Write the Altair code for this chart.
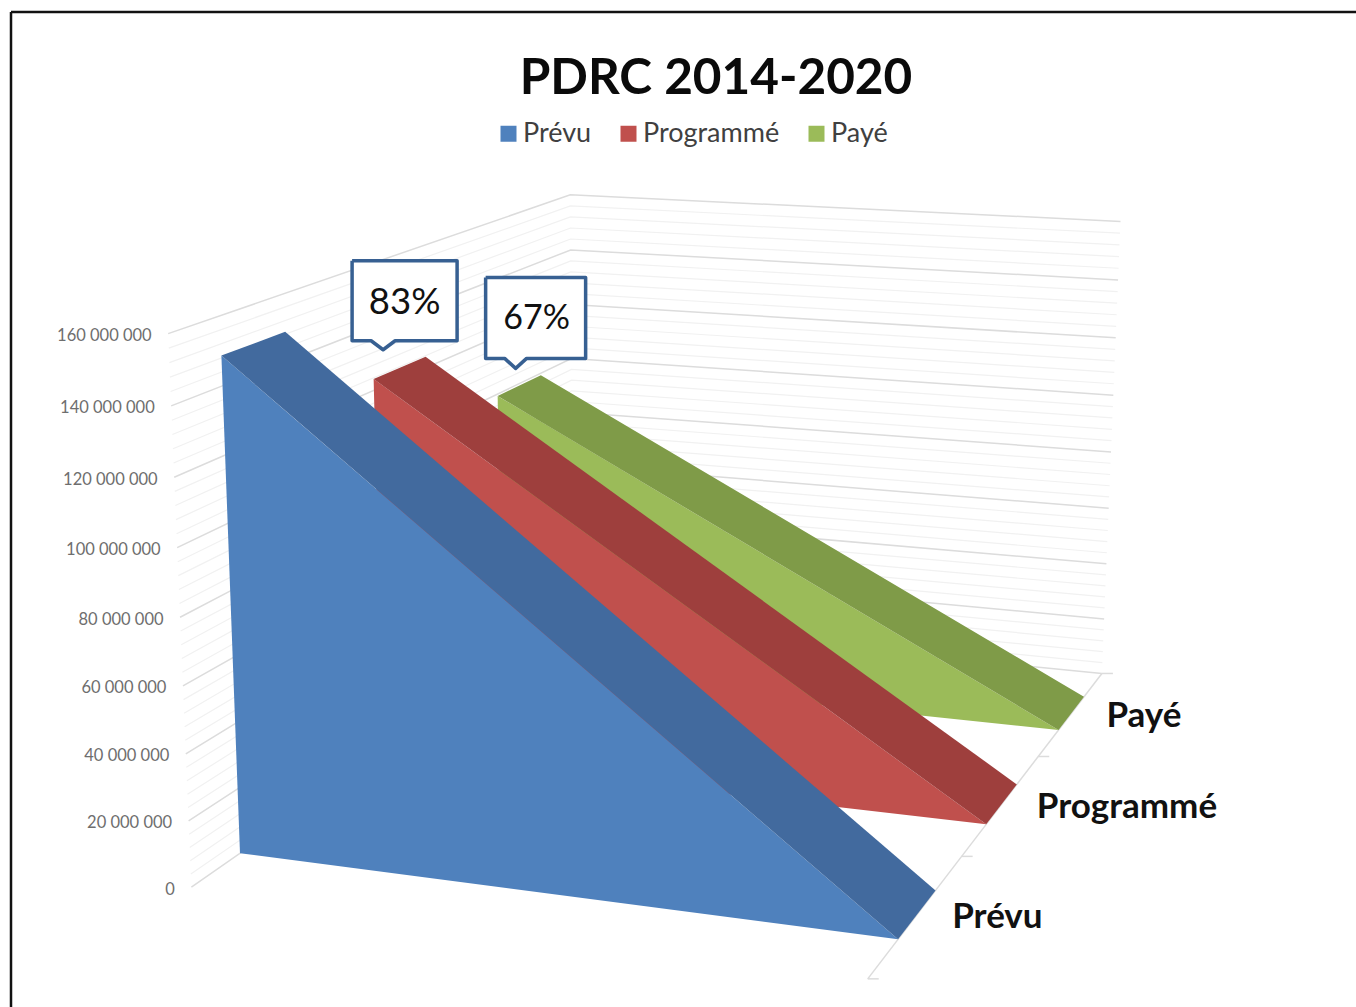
import numpy as np
import pandas as pd
import altair as alt

# Budget envelopes of the programme
SERIES = ["Prévu", "Programmé", "Payé"]
START_VALUES = [148_700_000, 123_600_000, 99_300_000]
END_VALUES = [0, 0, 0]
SHARE_LABELS = [None, "83%", "67%"]
FRONT_COLORS = ["#4F81BD", "#C0504D", "#9BBB59"]
TOP_COLORS = ["#426A9E", "#9E3F3D", "#7F9B48"]

VALUE_MAX = 160_000_000
MAJOR_TICKS = list(range(0, 160_000_001, 20_000_000))
MINOR_TICKS = [t for t in range(0, 160_000_001, 4_000_000) if t % 20_000_000]

# Perspective camera: (period 0..1, depth 0..3, value 0..1) -> screen
CAMERA = np.array([
    [609.68418181, 187.0658929, -31.37751203, 191.38830788],
    [16.56031339, -23.68532505, -569.61382363, 887.09458629],
    [-0.0768221, 0.10437192, -0.04850496, 1.0],
])
SLAB_FRONT, SLAB_BACK = 0.3, 0.7
TOP_MARGIN = 165
WIDTH, HEIGHT = 1356, 1007

FONT = "Lato"


def project(period, depth, value):
    h = CAMERA @ np.array([period, depth, value / VALUE_MAX, 1.0])
    return float(h[0] / h[2]), float(h[1] / h[2])


def polygon_rows(vertices):
    """Upper and lower outline of a convex polygon, for an area mark."""
    rows = []
    edges = list(zip(vertices, vertices[1:] + vertices[:1]))
    for x in sorted({v[0] for v in vertices}):
        ys = []
        for (x0, y0), (x1, y1) in edges:
            if min(x0, x1) <= x <= max(x0, x1):
                if x0 == x1:
                    ys += [y0, y1]
                else:
                    ys.append(y0 + (y1 - y0) * (x - x0) / (x1 - x0))
        rows.append({"px": x, "py": min(ys), "py2": max(ys)})
    return rows


X = alt.X("px:Q", scale=alt.Scale(domain=[0, WIDTH], range=[0, WIDTH], nice=False, zero=False), axis=None)
Y = alt.Y("py:Q", scale=alt.Scale(domain=[TOP_MARGIN, HEIGHT], range=[0, HEIGHT - TOP_MARGIN], nice=False, zero=False),
          axis=None, stack=None)
color_scale = alt.Scale(domain=SERIES, range=FRONT_COLORS)

layers = []

# Outer frame of the chart object
layers.append(alt.Chart(pd.DataFrame({"a": [0]})).mark_rule(color="#111111", strokeWidth=2.5).encode(
    x=alt.value(11), y=alt.value(12 - TOP_MARGIN), y2=alt.value(HEIGHT - TOP_MARGIN)))
layers.append(alt.Chart(pd.DataFrame({"a": [0]})).mark_rule(color="#111111", strokeWidth=2.5).encode(
    x=alt.value(11), x2=alt.value(WIDTH), y=alt.value(12 - TOP_MARGIN)))


def wall_lines(ticks):
    rows = []
    for t in ticks:
        for i, (u, w) in enumerate([(0, 0), (0, 3), (1, 3)]):
            px, py = project(u, w, t)
            rows.append({"tick": t, "i": i, "px": px, "py": py})
    return pd.DataFrame(rows)


# Gridlines on the left and back walls
for ticks, stroke, sw in [(MINOR_TICKS, "#F1F1F1", 1.2), (MAJOR_TICKS, "#DCDCDC", 1.5)]:
    layers.append(alt.Chart(wall_lines(ticks)).mark_line(color=stroke, strokeWidth=sw).encode(
        x=X, y=Y, detail="tick:N", order="i:Q"))

# Depth axis along the floor, with its tick marks
axis_rows = []
for w in [0, 3]:
    px, py = project(1, w, 0)
    axis_rows.append({"seg": "axis", "i": w, "px": px, "py": py})
for w in range(4):
    px, py = project(1, w, 0)
    axis_rows.append({"seg": f"t{w}", "i": 0, "px": px, "py": py})
    axis_rows.append({"seg": f"t{w}", "i": 1, "px": px + 11, "py": py})
layers.append(alt.Chart(pd.DataFrame(axis_rows)).mark_line(color="#DCDCDC", strokeWidth=1.5).encode(
    x=X, y=Y, detail="seg:N", order="i:Q"))

# Slabs from the back of the scene to the front
for i in reversed(range(len(SERIES))):
    v0, v1 = START_VALUES[i], END_VALUES[i]
    wf, wb = i + SLAB_FRONT, i + SLAB_BACK
    front = [project(0, wf, v0), project(1, wf, v1), project(0, wf, 0)]
    top = [project(0, wf, v0), project(0, wb, v0), project(1, wb, v1), project(1, wf, v1)]
    front_df = pd.DataFrame(polygon_rows(front)).assign(serie=SERIES[i])
    layers.append(alt.Chart(front_df).mark_area(interpolate="linear").encode(
        x=X, y=Y, y2="py2:Q",
        color=alt.Color("serie:N", scale=color_scale, sort=SERIES, legend=alt.Legend(
            orient="none", direction="horizontal", legendX=495, legendY=120 - TOP_MARGIN, title=None,
            labelFont=FONT, labelFontSize=27, labelColor="#404040", symbolType="square", symbolSize=256,
            symbolStrokeWidth=0, columnPadding=23, labelOffset=1, padding=0))))
    layers.append(alt.Chart(pd.DataFrame(polygon_rows(top))).mark_area(interpolate="linear", color=TOP_COLORS[i]).encode(
        x=X, y=Y, y2="py2:Q"))

# Speech-bubble callouts above the slabs: offsets from the peak of each slab
BUBBLES = {
    1: dict(tip=(-17, -18), left=-31, right=74, top=-89, bottom=-9, tail=12, size=36.5, dx=0, dy=1),
    2: dict(tip=(-4, -17), left=-30, right=70, top=-91, bottom=-10, tail=11, size=34, dx=1, dy=0),
}
for i, b in BUBBLES.items():
    ax, ay = project(0, i + 0.5, START_VALUES[i])
    tx, ty = ax + b["tip"][0], ay + b["tip"][1]
    l, r, t, bt = tx + b["left"], tx + b["right"], ty + b["top"], ty + b["bottom"]
    fill = pd.DataFrame([
        {"px": l, "py": t, "py2": bt},
        {"px": tx - b["tail"], "py": t, "py2": bt},
        {"px": tx, "py": t, "py2": ty},
        {"px": tx + b["tail"], "py": t, "py2": bt},
        {"px": r, "py": t, "py2": bt},
    ])
    outline = [(l, t), (r, t), (r, bt), (tx + b["tail"], bt), (tx, ty), (tx - b["tail"], bt), (l, bt), (l, t)]
    outline_df = pd.DataFrame([{"i": k, "px": p[0], "py": p[1]} for k, p in enumerate(outline)])
    layers.append(alt.Chart(fill).mark_area(interpolate="linear", color="white").encode(x=X, y=Y, y2="py2:Q"))
    layers.append(alt.Chart(outline_df).mark_line(color="#376092", strokeWidth=3.5, strokeJoin="round").encode(
        x=X, y=Y, order="i:Q"))
    label = pd.DataFrame([{"px": (l + r) / 2 + b["dx"], "py": (t + bt) / 2 + 1 + b["dy"], "txt": SHARE_LABELS[i]}])
    layers.append(alt.Chart(label).mark_text(font=FONT, fontSize=b["size"], color="#111111", baseline="middle").encode(
        x=X, y=Y, text="txt:N"))

# Value labels beside the left wall
value_rows = []
for t in MAJOR_TICKS:
    px, py = project(0, 0, t)
    value_rows.append({"px": px - 16.5, "py": py + 2.5, "txt": f"{t:,}".replace(",", " ")})
layers.append(alt.Chart(pd.DataFrame(value_rows)).mark_text(
    font=FONT, fontSize=16.5, color="#6E6E6E", align="right", baseline="middle").encode(x=X, y=Y, text="txt:N"))

# Series names along the depth axis
depth_rows = []
for i, name in enumerate(SERIES):
    px, py = project(1, i + 0.5, 0)
    depth_rows.append({"px": px + 35, "py": py + 3, "txt": name})
layers.append(alt.Chart(pd.DataFrame(depth_rows)).mark_text(
    font=FONT, fontSize=35, fontWeight="bold", color="#111111", align="left", baseline="middle").encode(
    x=X, y=Y, text="txt:N"))

chart = alt.layer(*layers).properties(
    width=WIDTH,
    height=HEIGHT - TOP_MARGIN,
    padding={"left": 0, "right": 0, "top": TOP_MARGIN, "bottom": 0},
    autosize=alt.AutoSizeParams(type="none"),
    background="white",
    title=alt.TitleParams(
        text="PDRC 2014-2020", font=FONT, fontSize=49.5, fontWeight="bold", color="#0A0A0A",
        anchor="middle", dx=38, baseline="alphabetic", offset=-133),
).configure_view(stroke=None)

chart.save("out.html", embed_options={"renderer": "svg", "actions": False})
